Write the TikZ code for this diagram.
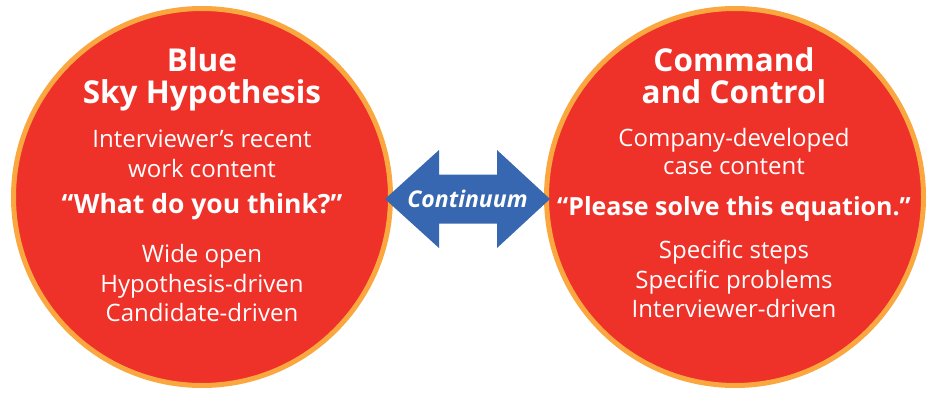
\documentclass[tikz,border=0pt]{standalone}
\usepackage{fontspec}
\setmainfont{Open Sans}
\definecolor{circred}{HTML}{EE3129}
\definecolor{ringorange}{HTML}{F9A73E}
\definecolor{arrowblue}{HTML}{3767B0}
\tikzset{
  bigcircle/.style={circle, fill=circred, draw=ringorange, line width=5pt, minimum size=377pt, inner sep=0pt, outer sep=0pt},
  title/.style={anchor=base, text=white, font=\fontsize{31.5}{31.5}\selectfont\bfseries, inner sep=0pt},
  body/.style={anchor=base, text=white, font=\fontsize{24}{24}\selectfont, inner sep=0pt},
  quote/.style={anchor=base, text=white, font=\fontsize{26}{26}\selectfont\bfseries, inner sep=0pt},
  contarrow/.style={fill=arrowblue, draw=none},
  conttext/.style={anchor=base, inner sep=0pt, text=white, font=\fontsize{23}{23}\selectfont\bfseries\itshape}
}
\begin{document}
\begin{tikzpicture}[x=1pt,y=1pt]
\useasboundingbox (0,0) rectangle (932,392);
\node[bigcircle] (left) at (202,195) {};
\node[bigcircle] (right) at (735,195) {};
\path[contarrow] (385,193) -- (439,242) -- (439,217.5) -- (497,217.5) -- (497,242) -- (550,193)
  -- (497,144) -- (497,168.5) -- (439,168.5) -- (439,144) -- cycle;
\node[conttext] (cont) at (467.5,185) {Continuum};
% left texts
\node[title] (l1) at (202,320) {Blue};
\node[title] (l2) at (202,289) {Sky Hypothesis};
\node[body] (l3) at (202,245) {Interviewer’s recent};
\node[body] (l4) at (202,215) {work content};
\node[quote,font=\fontsize{26.5}{26.5}\selectfont\bfseries] (l5) at (202,179) {“What do you think?”};
\node[body] (l6) at (202,130) {Wide open};
\node[body] (l7) at (202,100) {Hypothesis-driven};
\node[body] (l8) at (202,71) {Candidate-driven};
% right texts
\node[title] (r1) at (734,320) {Command};
\node[title] (r2) at (734,289) {and Control};
\node[body] (r3) at (734,246) {Company-developed};
\node[body] (r4) at (734,218) {case content};
\node[quote,font=\fontsize{25}{25}\selectfont\bfseries] (r5) at (734,177) {“Please solve this equation.”};
\node[body] (r6) at (734,134) {Specific steps};
\node[body] (r7) at (734,104) {Specific problems};
\node[body] (r8) at (734,75) {Interviewer-driven};
\end{tikzpicture}
\end{document}
